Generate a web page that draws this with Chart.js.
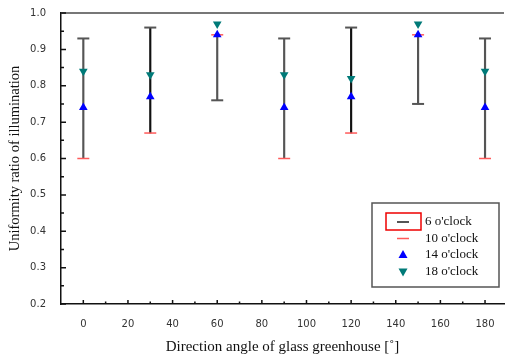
<!DOCTYPE html>
<html>
<head>
<meta charset="utf-8">
<script src="https://cdn.jsdelivr.net/npm/chart.js@4"></script>
<style>
  body { margin: 0; background: #fff; }
  #wrap { width: 512px; height: 356px; }
</style>
</head>
<body>
<div id="wrap"><canvas id="myChart"></canvas></div>
<script>
// direction angles and readings for each hour
const angles = [0, 30, 60, 90, 120, 150, 180];
const six = [0.93, 0.96, 0.76, 0.93, 0.96, 0.75, 0.93];
const ten = [0.60, 0.67, 0.94, 0.60, 0.67, 0.94, 0.60];
const fourteen = [0.74, 0.77, 0.94, 0.74, 0.77, 0.94, 0.74];
const eighteen = [0.84, 0.83, 0.97, 0.83, 0.82, 0.97, 0.84];

const xTicks = [0, 20, 40, 60, 80, 100, 120, 140, 160, 180];
const xMinor = [10, 30, 50, 70, 90, 110, 130, 150, 170];
const yTicks = [0.2, 0.3, 0.4, 0.5, 0.6, 0.7, 0.8, 0.9, 1.0];
const yMinor = [0.25, 0.35, 0.45, 0.55, 0.65, 0.75, 0.85, 0.95];

const pts = (arr) => angles.map((a, i) => ({ x: a, y: arr[i] }));

const ctx = document.getElementById('myChart');

// inward ticks, top frame line and the boxed legend
const frame = {
  id: 'frame',
  afterDraw(chart) {
    const c = chart.ctx;
    const area = chart.chartArea;
    const xs = chart.scales.x, ys = chart.scales.y;
    c.save();
    c.strokeStyle = '#777';
    c.lineWidth = 2;
    c.beginPath();
    c.moveTo(area.left, area.top);
    c.lineTo(area.right, area.top);
    c.stroke();

    c.strokeStyle = '#111';
    c.lineWidth = 1.5;
    c.beginPath();
    xTicks.forEach(v => { const p = xs.getPixelForValue(v); c.moveTo(p, area.bottom); c.lineTo(p, area.bottom - 4); });
    xMinor.forEach(v => { const p = xs.getPixelForValue(v); c.moveTo(p, area.bottom); c.lineTo(p, area.bottom - 2.5); });
    yTicks.forEach(v => { const p = ys.getPixelForValue(v); c.moveTo(area.left, p); c.lineTo(area.left + 5, p); });
    yMinor.forEach(v => { const p = ys.getPixelForValue(v); c.moveTo(area.left, p); c.lineTo(area.left + 3, p); });
    c.stroke();

    // legend
    c.fillStyle = '#fff';
    c.fillRect(372, 203, 127, 84);
    c.strokeStyle = '#555';
    c.lineWidth = 1.5;
    c.strokeRect(372, 203, 127, 84);
    const items = chart.data.datasets.filter(d => d.label);
    c.font = "13px 'Liberation Serif', serif";
    c.textBaseline = 'middle';
    items.forEach((d, i) => {
      const y = 222 + i * 16.5;
      const mx = 403;
      if (d.pointStyle === 'line') {
        c.strokeStyle = d.borderColor;
        c.lineWidth = d.borderWidth;
        c.beginPath();
        c.moveTo(mx - 6, y); c.lineTo(mx + 6, y);
        c.stroke();
      } else {
        const up = !d.rotation;
        c.fillStyle = d.backgroundColor;
        c.beginPath();
        if (up) { c.moveTo(mx, y - 5); c.lineTo(mx + 4.5, y + 3); c.lineTo(mx - 4.5, y + 3); }
        else { c.moveTo(mx, y + 5); c.lineTo(mx + 4.5, y - 3); c.lineTo(mx - 4.5, y - 3); }
        c.closePath();
        c.fill();
      }
      c.fillStyle = '#111';
      c.fillText(d.label, 425, y);
    });
    c.strokeStyle = '#e00';
    c.lineWidth = 1.5;
    c.strokeRect(386, 213, 35, 17);
    c.restore();
  }
};

new Chart(ctx, {
  type: 'scatter',
  data: {
    datasets: [
      {
        type: 'bar',
        data: angles.map((a, i) => ({ x: a, y: [Math.min(six[i], ten[i]), Math.max(six[i], ten[i])] })),
        backgroundColor: ['#555', '#111', '#555', '#555', '#111', '#555', '#555'],
        borderWidth: 0,
        barThickness: 1.5,
        order: 10
      },
      {
        label: "6 o'clock",
        data: pts(six),
        pointStyle: 'line',
        pointRadius: 6,
        borderColor: '#555',
        borderWidth: 2,
        order: 5
      },
      {
        label: "10 o'clock",
        data: pts(ten),
        pointStyle: 'line',
        pointRadius: 6,
        borderColor: '#ff5a5a',
        borderWidth: 1.5,
        order: 4
      },
      {
        label: "14 o'clock",
        data: pts(fourteen),
        pointStyle: 'triangle',
        pointRadius: 5,
        backgroundColor: '#0000ff',
        borderColor: '#0000ff',
        borderWidth: 0,
        order: 2
      },
      {
        label: "18 o'clock",
        data: pts(eighteen),
        pointStyle: 'triangle',
        rotation: 180,
        pointRadius: 5,
        backgroundColor: '#007a78',
        borderColor: '#007a78',
        borderWidth: 0,
        order: 1
      }
    ]
  },
  options: {
    responsive: true,
    maintainAspectRatio: false,
    animation: false,
    layout: { padding: { top: 10, right: 0, left: 0, bottom: 0 } },
    scales: {
      x: {
        type: 'linear',
        min: -10,
        max: 188.5,
        offset: false,
        afterBuildTicks: (s) => { s.ticks = xTicks.map(v => ({ value: v })); },
        afterFit: (s) => { s.height = 52; },
        grid: { display: false, offset: false },
        border: { display: true, color: '#111', width: 1.5 },
        ticks: {
          padding: 6,
          color: '#333',
          font: { family: "'DejaVu Sans', sans-serif", size: 10 }
        },
        title: {
          display: true,
          text: 'Direction angle of glass greenhouse [˚]',
          color: '#111',
          padding: { top: -1.5, bottom: 0 },
          font: { family: "'Liberation Serif', serif", size: 15 }
        }
      },
      y: {
        min: 0.2,
        max: 1.0,
        afterBuildTicks: (s) => { s.ticks = yTicks.map(v => ({ value: v })); },
        afterFit: (s) => { s.width = 61; },
        grid: { display: false },
        border: { display: true, color: '#111', width: 1.5 },
        ticks: {
          padding: 7,
          color: '#333',
          callback: (v) => v.toFixed(1),
          font: { family: "'DejaVu Sans', sans-serif", size: 10 }
        },
        title: {
          display: true,
          text: 'Uniformity ratio of illumination',
          color: '#111',
          padding: { top: 6, bottom: 0 },
          font: { family: "'Liberation Serif', serif", size: 14.5 }
        }
      }
    },
    plugins: {
      legend: { display: false },
      tooltip: { enabled: false }
    }
  },
  plugins: [frame]
});
</script>
</body>
</html>
